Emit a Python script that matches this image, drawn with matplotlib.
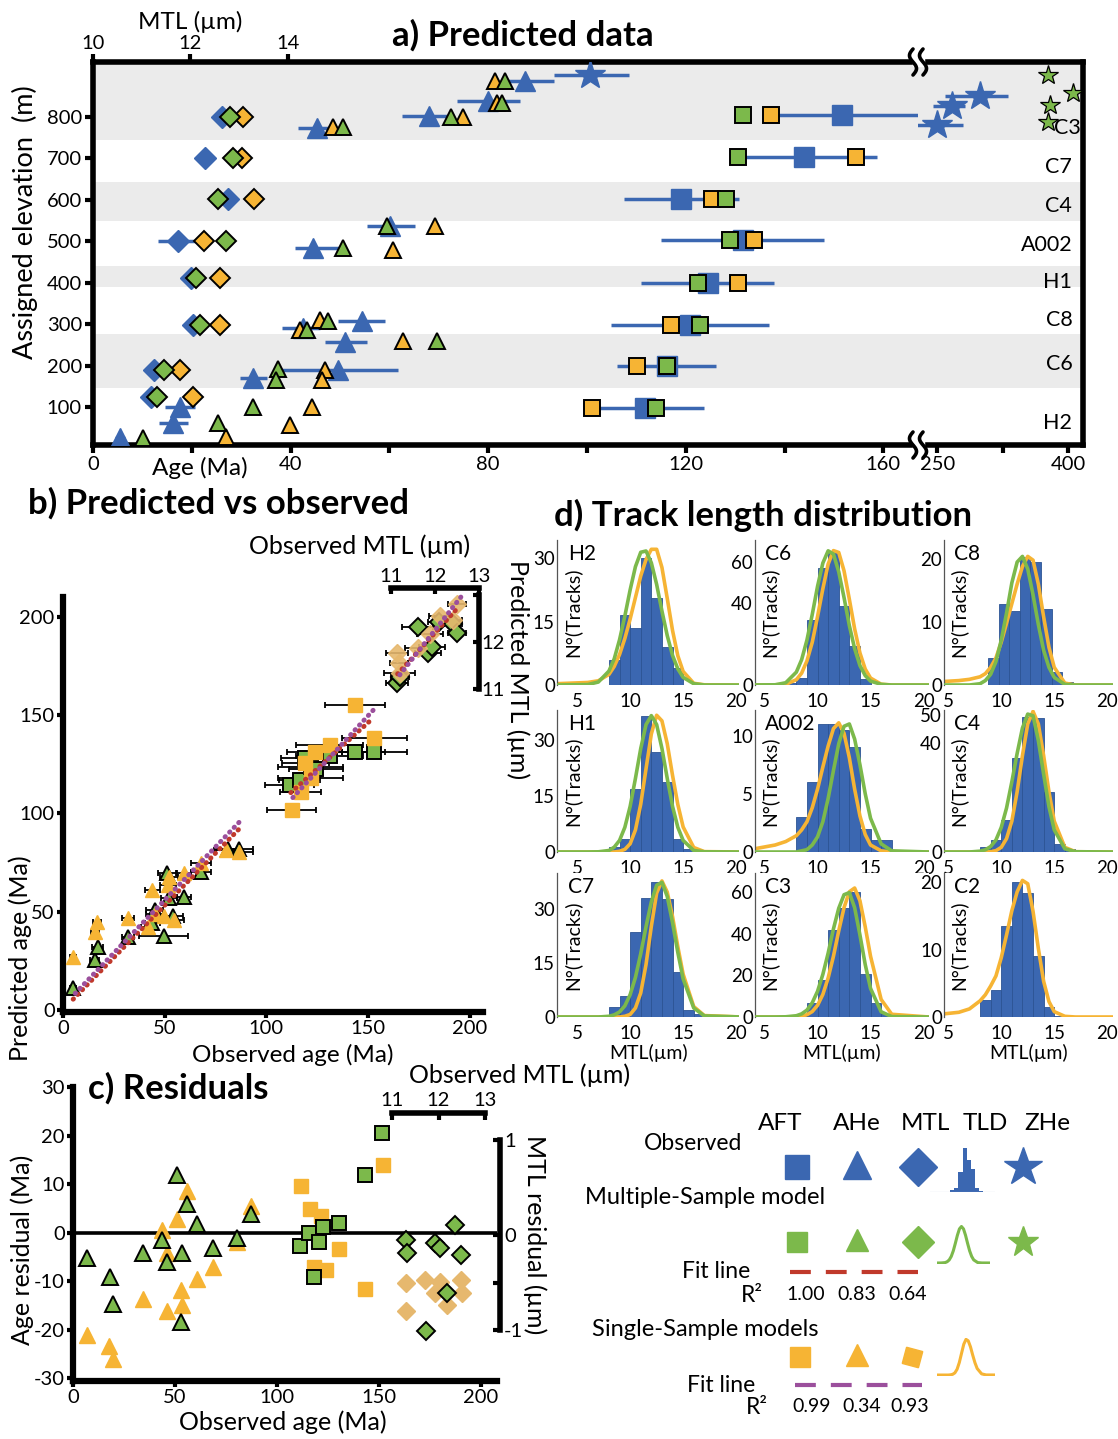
import numpy as np
import matplotlib
matplotlib.use("Agg")
import matplotlib.pyplot as plt
from matplotlib.patches import Rectangle
from matplotlib.transforms import blended_transform_factory

plt.rcParams["font.family"] = ["Lato", "DejaVu Sans"]
plt.rcParams["axes.unicode_minus"] = False

BLUE = "#3b67b1"
BLUE_EDGE = "#2c5494"
GREEN = "#7cb94b"
ORANGE = "#f6b434"
TAN = "#e6b86e"
BAND = "#ebebeb"
RED = "#c0392b"
PURPLE = "#9b4f9c"

# ---------------- a) predicted data (age in Ma, elevation in m, MTL in um)
BANDS = [(744, 933), (549, 643), (389, 440), (145, 276)]
SAMPLES = ["C3", "C7", "C4", "A002", "H1", "C8", "C6", "H2"]
SAMPLE_ELEV = [773, 679, 585, 491, 401, 310, 203, 61]

AFT_ELEV = [805, 703, 602, 503, 399, 298, 199, 97]
AFT_OBS = [151.7, 144.0, 119.1, 131.5, 124.4, 120.8, 116.1, 111.7]
AFT_OBS_ERR = [16, 14.7, 11.6, 16.5, 13.5, 16, 10, 12]
AFT_MULTI = [131.5, 130.5, 128.2, 129.0, 122.4, 122.8, 116.1, 113.9]
AFT_SINGLE = [137.3, 154.5, 125.4, 133.9, 130.5, 116.9, 110.2, 101.1]

AHE_OBS = [87.4, 79.9, 68.0, 45.3, 60.1, 44.5, 54.4, 42.5, 51.0, 49.6, 32.4, 17.6, 16.2, 5.5]
AHE_OBS_ELEV = [887, 839, 802, 773, 537, 484, 307, 290, 257, 189, 170, 100, 61, 25]
AHE_ERR_LO = [3.7, 6.3, 5.5, 3.8, 4.7, 3.6, 4.8, 4.3, 4.0, 11.4, 2.7, 3.0, 2.9, 1.0]
AHE_ERR_HI = [6.0, 6.5, 3.6, 2.2, 5.0, 5.5, 4.7, 3.4, 4.4, 12.1, 2.8, 3.0, 3.0, 1.0]
AHE_MULTI = [83.3, 82.7, 72.4, 50.6, 59.5, 50.6, 47.5, 43.3, 69.6, 37.4, 37.0, 32.4, 25.3, 10.1]
AHE_MULTI_ELEV = [887, 834, 800, 776, 537, 484, 307, 286, 259, 191, 165, 100, 61, 25]
AHE_SINGLE = [81.3, 81.7, 74.8, 48.5, 69.2, 60.7, 45.9, 41.9, 62.7, 47.0, 46.3, 44.3, 39.8, 26.9]
AHE_SINGLE_ELEV = [887, 834, 800, 776, 537, 479, 310, 286, 259, 189, 165, 100, 56, 27]

MTL_ELEV = [800, 701, 602, 500, 411, 298, 189, 124]
MTL_OBS = [12.65, 12.30, 12.77, 11.74, 12.01, 12.05, 11.25, 11.19]
MTL_OBS_ERR = [0, 0, 0, 0.41, 0.2, 0, 0, 0]
MTL_MULTI = [12.81, 12.88, 12.57, 12.73, 12.11, 12.20, 11.46, 11.31]
MTL_SINGLE = [13.08, 13.06, 13.31, 12.28, 12.61, 12.61, 11.79, 12.05]

ZHE_OBS = [100.7, 299, 267, 250]
ZHE_ELEV = [901, 851, 827, 781]
ZHE_ERR_LO = [7.3, 40, 21.6, 37]
ZHE_ERR_HI = [7.9, 32, 15, 30]
ZHE_MULTI = [377, 406, 379, 377]
ZHE_MULTI_ELEV = [901, 858, 829, 788]

# ---------------- b) predicted vs observed
B_AFT_MULTI_OBS = [111.4, 116.3, 118.8, 121.8, 124.4, 131.2, 143.6, 153.0]
B_AFT_MULTI_PRED = [114.2, 116.8, 127.9, 123.4, 122.4, 129.4, 131.0, 131.0]
B_AFT_SINGLE_OBS = [112.4, 116.8, 119.1, 121.8, 123.8, 131.2, 143.6, 153.0]
B_AFT_SINGLE_PRED = [101.5, 110.7, 125.4, 117.8, 131.0, 134.5, 155.3, 138.1]
B_AFT_ERR = [12, 10, 11.6, 16, 13.5, 16.5, 14.7, 16]

B_AHE_MULTI_OBS = [5, 15.5, 17, 32, 44, 45, 49.5, 51, 52, 54, 59.5, 68, 81, 86.5]
B_AHE_MULTI_PRED = [11, 25.5, 32, 37, 44, 51, 37.5, 69.5, 57, 48, 57.5, 70, 82, 82]
B_AHE_MULTI_ERR = [1.5, 2, 2.5, 3, 3.5, 4, 12, 4.5, 4, 5, 3.5, 5, 6, 7]
B_AHE_SINGLE_OBS = [5, 15.8, 16.8, 32, 42, 45, 44, 49.5, 51.5, 52, 54.5, 59.4, 67.8, 80.2, 86.6]
B_AHE_SINGLE_PRED = [27, 39.6, 44.7, 46.7, 42, 49, 61, 47.7, 63.5, 67.5, 45.7, 69.5, 75, 81.2, 80.2]
B_AHE_SINGLE_ERR = [1.5, 2, 2, 3, 3.5, 4, 3.5, 5, 4, 4.5, 5, 3.5, 5, 6, 7]

B_MTL_MULTI_OBS = [11.14, 11.20, 11.61, 11.84, 11.93, 12.09, 12.41, 12.50]
B_MTL_MULTI_PRED = [11.13, 11.26, 12.32, 11.77, 11.89, 12.43, 12.38, 12.19]
B_MTL_ERR = [0.25, 0.2, 0.35, 0.3, 0.3, 0.25, 0.2, 0.2]
B_MTL_SINGLE_OBS = [11.14, 11.18, 11.20, 11.61, 11.89, 12.11, 12.41, 12.50]
B_MTL_SINGLE_PRED = [11.77, 11.55, 11.34, 11.87, 12.17, 12.55, 12.47, 12.81]

FIT_AHE_MULTI = ([5, 87], [5.5, 92.5])
FIT_AHE_SINGLE = ([6, 88], [8.5, 97])
FIT_AFT_MULTI = ([112, 152], [110.5, 148])
FIT_AFT_SINGLE = ([113, 153], [108, 153])
FIT_MTL_MULTI = ([11.15, 12.55], [11.32, 12.76])
FIT_MTL_SINGLE = ([11.2, 12.6], [11.3, 12.97])

# ---------------- c) residuals
C_AHE_MULTI_OBS = [6.9, 18.1, 19.7, 34.1, 43.8, 45.9, 50.8, 53.2, 52.9, 55.7, 60.9, 68.8, 80.5, 87.1]
C_AHE_MULTI_RES = [-5.2, -9.1, -14.8, -4.2, -1.6, -6.0, 11.9, -4.2, -18.4, 5.9, 1.8, -3.1, -1.1, 3.9]
C_AHE_SINGLE_OBS = [6.9, 17.6, 19.7, 34.1, 43.8, 45.9, 45.9, 50.8, 52.7, 53.2, 55.7, 60.9, 68.8, 80.5, 87.1]
C_AHE_SINGLE_RES = [-21.2, -23.3, -26.0, -13.6, 0.5, -4.2, -16.1, 2.7, -11.8, -15.0, 8.5, -9.6, -7.2, -2.0, 5.4]
C_AFT_MULTI_OBS = [111.3, 115.8, 120.6, 118.3, 122.7, 130.5, 143.1, 151.3]
C_AFT_MULTI_RES = [-2.7, -0.1, -2.0, -9.1, 1.2, 2.0, 11.9, 20.6]
C_AFT_SINGLE_OBS = [111.6, 116.2, 121.4, 118.3, 124.0, 130.5, 143.1, 151.8]
C_AFT_SINGLE_RES = [9.6, 4.9, 3.5, -7.2, -7.7, -3.3, -11.7, 13.9]
C_MTL_MULTI_OBS = [11.30, 11.33, 11.92, 12.03, 12.35, 12.48, 12.19, 11.73]
C_MTL_MULTI_RES = [-0.05, -0.19, -0.08, -0.14, 0.11, -0.21, -0.61, -1.01]
C_MTL_SINGLE_OBS = [11.30, 11.30, 11.71, 11.92, 12.03, 12.18, 12.48, 12.50]
C_MTL_SINGLE_RES = [-0.50, -0.80, -0.47, -0.61, -0.49, -0.74, -0.47, -0.61]

# ---------------- d) track length distributions
TL_GRID = [3, 6, 7, 8, 8.5, 9, 9.5, 10, 10.5, 11, 11.5, 12, 12.5, 13, 13.5, 14, 14.5, 15, 16, 17, 20.5]

H2_COUNTS = [6, 16.5, 13.5, 30, 20.5, 9, 4]
H2_GREEN = [0, 0.1, 0.7, 3.3, 6.2, 10.7, 16.3, 22.5, 28.0, 31.4, 31.7, 28.9, 23.8, 17.5, 11.7, 7.0, 3.8, 1.8, 0.3, 0, 0]
H2_ORANGE = [0.3, 0.6, 1.0, 2.5, 4.4, 7.2, 11.0, 15.6, 20.7, 25.8, 29.7, 32.1, 32.1, 27.8, 20.5, 12.9, 6.9, 3.2, 0.4, 0.05, 0]
C6_COUNTS = [1, 3.6, 32, 57.5, 65.6, 38.6, 19.3, 3]
C6_GREEN = [0, 0.1, 1.1, 6.3, 12.4, 22.0, 34.5, 48.3, 59.7, 65.7, 64.1, 55.4, 42.8, 29.1, 17.8, 9.5, 4.6, 1.9, 0.3, 0, 0]
C6_ORANGE = [0, 0.1, 0.3, 2.6, 5.8, 11.8, 20.9, 33.5, 47.1, 59.2, 65.8, 64.9, 55.9, 42.0, 27.5, 15.7, 7.8, 3.4, 0.4, 0, 0]
C8_COUNTS = [4.3, 12.9, 11.8, 20.3, 19.5, 12, 2, 0.5]
C8_GREEN = [0, 0, 0, 0.2, 0.7, 1.7, 3.7, 7.1, 11.4, 16.2, 19.5, 20.4, 18.4, 14.3, 9.6, 5.5, 2.8, 1.2, 0.1, 0, 0]
C8_ORANGE = [0.4, 0.7, 0.9, 1.3, 1.8, 2.8, 4.3, 6.8, 9.8, 12.9, 16.0, 18.8, 20.4, 19.8, 16.0, 10.8, 6.0, 2.8, 0.3, 0, 0]
H1_COUNTS = [1.4, 3.5, 16.8, 36.3, 26.8, 18.6, 3.5, 0.9]
H1_GREEN = [0, 0, 0.05, 0.4, 1.3, 3.1, 6.6, 12.2, 19.7, 27.7, 34.1, 36.5, 34.1, 27.7, 19.7, 12.2, 6.6, 3.1, 0.4, 0.05, 0]
H1_ORANGE = [0, 0, 0, 0, 0, 0.2, 0.7, 2.2, 5.9, 12.8, 22.3, 31.6, 36.6, 35.1, 29.0, 20.5, 12.7, 6.7, 1.2, 0.1, 0]
A002_COUNTS = [3, 6, 11, 11, 10.5, 9, 2, 1, 1]
A002_GREEN = [0, 0, 0, 0, 0.1, 0.2, 0.6, 1.3, 2.6, 4.6, 7.0, 9.3, 10.8, 11.0, 9.7, 7.5, 5.0, 2.9, 0.7, 0.1, 0]
A002_ORANGE = [0.1, 0.6, 0.9, 1.4, 1.9, 2.6, 3.8, 5.4, 7.3, 9.1, 10.6, 11.1, 10.2, 8.1, 5.4, 3.1, 1.5, 0.6, 0.1, 0, 0]
C4_COUNTS = [2, 4.5, 11.6, 34.6, 49.5, 49, 22, 3, 1]
C4_GREEN = [0, 0, 0, 0.3, 0.8, 2.0, 4.4, 9.0, 16.1, 25.7, 36.1, 45.4, 50.5, 49.9, 40.8, 28.5, 16.6, 8.1, 1.2, 0.1, 0]
C4_ORANGE = [0, 0, 0, 0, 0, 0.1, 0.5, 1.7, 4.9, 11.3, 22.1, 35.3, 46.9, 51.5, 46.9, 35.3, 22.1, 11.3, 1.7, 0.1, 0]
C7_COUNTS = [2.8, 5.8, 23.5, 33, 37.6, 32.8, 12.5, 1.9, 0.8]
C7_GREEN = [0, 0, 0, 0.2, 0.6, 1.4, 3.1, 6.2, 11.0, 17.6, 25.1, 32.0, 36.6, 37.4, 33.5, 26.2, 17.9, 10.6, 2.5, 0.3, 0]
C7_ORANGE = [0, 0, 0, 0, 0, 0, 0.2, 0.7, 2.5, 6.7, 14.6, 25.2, 34.4, 37.8, 34.7, 27.9, 19.5, 11.9, 2.9, 0.4, 0]
C3_COUNTS = [1.3, 6.7, 17.9, 41.7, 52.4, 59.8, 20.7, 6.5, 1.3]
C3_GREEN = [0, 0, 0.1, 0.6, 1.5, 3.3, 6.8, 12.3, 20.4, 30.6, 42.2, 52.1, 58.6, 59.6, 52.4, 39.3, 25.1, 13.7, 2.5, 0.2, 0]
C3_ORANGE = [0, 0, 0, 0.1, 0.4, 1.1, 2.6, 5.6, 10.8, 18.7, 29.1, 41.3, 52.4, 60.0, 61.8, 55.7, 43.2, 29.1, 8.4, 1.3, 0]
C2_COUNTS = [2.5, 4, 13.5, 20, 18.5, 9, 1.5, 0.2]
C2_ORANGE = [0.2, 0.7, 1.2, 2.4, 3.3, 4.6, 6.1, 8.8, 12.2, 15.8, 18.6, 20.3, 19.8, 15.7, 10.2, 5.3, 2.3, 0.8, 0.1, 0, 0]

TLD_PANELS = [
    ("H2", 8, H2_COUNTS, H2_GREEN, H2_ORANGE, 34.3, [0, 15, 30]),
    ("C6", 7, C6_COUNTS, C6_GREEN, C6_ORANGE, 71, [0, 40, 60]),
    ("C8", 8.75, C8_COUNTS, C8_GREEN, C8_ORANGE, 23, [0, 10, 20]),
    ("H1", 8, H1_COUNTS, H1_GREEN, H1_ORANGE, 38, [0, 15, 30]),
    ("A002", 8, A002_COUNTS, A002_GREEN, A002_ORANGE, 12.2, [0, 5, 10]),
    ("C4", 8, C4_COUNTS, C4_GREEN, C4_ORANGE, 52, [0, 40, 50]),
    ("C7", 8, C7_COUNTS, C7_GREEN, C7_ORANGE, 40, [0, 15, 30]),
    ("C3", 8, C3_COUNTS, C3_GREEN, C3_ORANGE, 69, [0, 20, 40, 60]),
    ("C2", 8, C2_COUNTS, None, C2_ORANGE, 21.4, [0, 10, 20]),
]

# ---------------- legend
LEG_COLS = ["AFT", "AHe", "MTL", "TLD", "ZHe"]
R2_MULTI = ["1.00", "0.83", "0.64"]
R2_SINGLE = ["0.99", "0.34", "0.93"]

W, H = 1118, 1439
fig = plt.figure(figsize=(W / 100, H / 100), dpi=100)


def box(x0, y0, x1, y1):
    return [x0 / W, 1 - y1 / H, (x1 - x0) / W, (y1 - y0) / H]


def ftext(x, y, s, **kw):
    kw.setdefault("ha", "center")
    kw.setdefault("va", "center")
    fig.text(x / W, 1 - y / H, s, **kw)


def edge(c):
    return dict(mfc=c, mec="black", mew=1.4, ls="none")


# ======================= panel a
ax1 = fig.add_axes(box(93, 62, 918, 445))
ax2 = fig.add_axes(box(918, 62, 1083, 445))
for ax in (ax1, ax2):
    ax.set_ylim(8, 933)
    for lo, hi in BANDS:
        ax.axhspan(lo, hi, color=BAND, lw=0, zorder=0)
    for s in ax.spines.values():
        s.set_linewidth(4)
    ax.errorbar(AFT_OBS, AFT_ELEV, xerr=AFT_OBS_ERR, fmt="s", color=BLUE, ms=15,
                elinewidth=2.5, capsize=0, zorder=3)
    ax.plot(AFT_SINGLE, AFT_ELEV, "s", ms=11.5, zorder=4, **edge(ORANGE))
    ax.plot(AFT_MULTI, AFT_ELEV, "s", ms=11.5, zorder=5, **edge(GREEN))
    ax.errorbar(AHE_OBS, AHE_OBS_ELEV, xerr=[AHE_ERR_LO, AHE_ERR_HI], fmt="^", color=BLUE,
                ms=14, elinewidth=2.5, capsize=0, zorder=3)
    ax.plot(AHE_SINGLE, AHE_SINGLE_ELEV, "^", ms=11, zorder=4, **edge(ORANGE))
    ax.plot(AHE_MULTI, AHE_MULTI_ELEV, "^", ms=11, zorder=5, **edge(GREEN))
    ax.errorbar(ZHE_OBS, ZHE_ELEV, xerr=[ZHE_ERR_LO, ZHE_ERR_HI], fmt="*", color=BLUE,
                ms=22, elinewidth=2.5, capsize=0, zorder=3)
    ax.plot(ZHE_MULTI, ZHE_MULTI_ELEV, "*", ms=15, zorder=5, mfc=GREEN, mec="black",
            mew=0.9, ls="none")

ax1.spines["right"].set_visible(False)
ax2.spines["left"].set_visible(False)
ax1.set_xlim(0, 167)
ax2.set_xlim(228, 417)
age_ticks = list(range(0, 161, 20))
ax1.set_xticks(age_ticks)
ax1.set_xticklabels([str(v) if v % 40 == 0 else "" for v in age_ticks])
ax1.set_yticks(range(100, 801, 100))
ax1.tick_params(direction="out", length=6, width=3, labelsize=14.5, pad=2)
ax2.set_yticks([])
ax2.set_xticks([250, 325, 400])
ax2.set_xticklabels(["250", "", "400"])
ax2.tick_params(axis="x", direction="out", length=6, width=3, labelsize=14.5, pad=2)

trans = blended_transform_factory(ax2.transAxes, ax2.transData)
for name, el in zip(SAMPLES, SAMPLE_ELEV):
    xr = 0.985 if name == "C3" else 0.935
    ax2.text(xr, el, name, transform=trans, ha="right", va="center", fontsize=15.5, zorder=6)

ax_m = ax1.twiny()
ax_m.set_xlim(10, 10 + 167 / 9.85)
ax_m.set_xticks([10, 12, 14])
ax_m.tick_params(axis="x", direction="out", length=6, width=3, labelsize=14.5, pad=1)
for s in ax_m.spines.values():
    s.set_visible(False)
ax_m.errorbar(MTL_OBS, MTL_ELEV, xerr=MTL_OBS_ERR, fmt="D", color=BLUE, ms=11.5,
              elinewidth=2.5, capsize=0, zorder=3)
ax_m.plot(MTL_SINGLE, MTL_ELEV, "D", ms=10, zorder=4, **edge(ORANGE))
ax_m.plot(MTL_MULTI, MTL_ELEV, "D", ms=10, zorder=5, **edge(GREEN))

ftext(190, 22, "MTL (µm)", fontsize=17.5)
ftext(200, 468, "Age (Ma)", fontsize=17.5)
ftext(25, 222, "Assigned elevation  (m)", fontsize=19.5, rotation=90)
ftext(523, 35, "a) Predicted data", fontsize=25, fontweight="bold")

# ======================= panel b
ax_b = fig.add_axes(box(63, 597, 483, 1012))
ax_b.set_xlim(0, 206.5)
ax_b.set_ylim(-1, 210)
for side in ("top", "right"):
    ax_b.spines[side].set_visible(False)
for side in ("left", "bottom"):
    ax_b.spines[side].set_linewidth(4.5)
ax_b.set_xticks([0, 50, 100, 150, 200])
ax_b.set_yticks([0, 50, 100, 150, 200])
ax_b.tick_params(direction="out", length=4, width=3, labelsize=14.5, pad=2)
eb = dict(fmt="none", ecolor="black", elinewidth=1.3, capsize=2.5, capthick=1.3, zorder=2)
ax_b.errorbar(B_AFT_MULTI_OBS, B_AFT_MULTI_PRED, xerr=B_AFT_ERR, **eb)
ax_b.errorbar(B_AFT_SINGLE_OBS, B_AFT_SINGLE_PRED, xerr=B_AFT_ERR, **eb)
ax_b.errorbar(B_AHE_MULTI_OBS, B_AHE_MULTI_PRED, xerr=B_AHE_MULTI_ERR, **eb)
ax_b.errorbar(B_AHE_SINGLE_OBS, B_AHE_SINGLE_PRED, xerr=B_AHE_SINGLE_ERR, **eb)
ax_b.plot(B_AFT_MULTI_OBS, B_AFT_MULTI_PRED, "s", ms=9.5, zorder=3, **edge(GREEN))
ax_b.plot(B_AHE_MULTI_OBS, B_AHE_MULTI_PRED, "^", ms=10, zorder=3, **edge(GREEN))
ax_b.plot(B_AFT_SINGLE_OBS, B_AFT_SINGLE_PRED, "s", ms=9.5, color=ORANGE, ls="none", zorder=4)
ax_b.plot(B_AHE_SINGLE_OBS, B_AHE_SINGLE_PRED, "^", ms=10, color=ORANGE, ls="none", zorder=4)
dot = dict(lw=3.5, ls=(0, (0.1, 1.25)), dash_capstyle="round", zorder=5)
for fx, fy, c in (FIT_AHE_MULTI + (RED,), FIT_AHE_SINGLE + (PURPLE,),
                  FIT_AFT_MULTI + (RED,), FIT_AFT_SINGLE + (PURPLE,)):
    ax_b.plot(fx, fy, color=c, **dot)

ax_bi = fig.add_axes(box(391, 595, 479, 689))
ax_bi.set_facecolor("none")
ax_bi.set_xlim(11, 13)
ax_bi.set_ylim(11, 13)
for side in ("left", "bottom"):
    ax_bi.spines[side].set_visible(False)
for side in ("top", "right"):
    ax_bi.spines[side].set_linewidth(4)
ax_bi.spines["top"].set_position(("outward", 5))
ax_bi.xaxis.tick_top()
ax_bi.yaxis.tick_right()
ax_bi.set_xticks([11, 12, 13])
ax_bi.set_yticks([11, 12, 13])
ax_bi.set_yticklabels(["11", "12", ""])
ax_bi.tick_params(direction="in", length=4, width=3, labelsize=14.5, pad=2)
ax_bi.errorbar(B_MTL_MULTI_OBS, B_MTL_MULTI_PRED, xerr=B_MTL_ERR, clip_on=False, **eb)
ax_bi.errorbar(B_MTL_SINGLE_OBS, B_MTL_SINGLE_PRED, xerr=B_MTL_ERR, clip_on=False, **eb)
ax_bi.plot(B_MTL_MULTI_OBS, B_MTL_MULTI_PRED, "D", ms=9, zorder=3, clip_on=False, **edge(GREEN))
ax_bi.plot(B_MTL_SINGLE_OBS, B_MTL_SINGLE_PRED, "D", ms=9, color=TAN, alpha=0.9, ls="none",
           zorder=4, clip_on=False)
for fx, fy, c in (FIT_MTL_MULTI + (RED,), FIT_MTL_SINGLE + (PURPLE,)):
    ax_bi.plot(fx, fy, color=c, clip_on=False, **dot)

ftext(219, 503, "b) Predicted vs observed", fontsize=25, fontweight="bold")
ftext(360, 546, "Observed MTL (µm)", fontsize=18)
ftext(518, 670, "Predicted MTL (µm)", fontsize=18, rotation=270)
ftext(20, 958, "Predicted age (Ma)", fontsize=18, rotation=90)
ftext(293, 1055, "Observed age (Ma)", fontsize=17.5)

# ======================= panel c
ax_c = fig.add_axes(box(73, 1087, 497, 1381))
ax_c.set_xlim(0, 207.8)
ax_c.set_ylim(-30.6, 30)
for side in ("top", "right"):
    ax_c.spines[side].set_visible(False)
for side in ("left", "bottom"):
    ax_c.spines[side].set_linewidth(4.5)
ax_c.set_xticks([0, 50, 100, 150, 200])
ax_c.set_yticks(range(-30, 31, 10))
ax_c.tick_params(direction="out", length=4, width=3, labelsize=14.5, pad=2)
ax_c.axhline(0, color="black", lw=2.6, zorder=1)
ax_c.plot(C_AHE_SINGLE_OBS, C_AHE_SINGLE_RES, "^", ms=11, color=ORANGE, ls="none", zorder=3)
ax_c.plot(C_AHE_MULTI_OBS, C_AHE_MULTI_RES, "^", ms=11, zorder=4, **edge(GREEN))
ax_c.plot(C_AFT_SINGLE_OBS, C_AFT_SINGLE_RES, "s", ms=10, color=ORANGE, ls="none", zorder=3)
ax_c.plot(C_AFT_MULTI_OBS, C_AFT_MULTI_RES, "s", ms=10, zorder=4, **edge(GREEN))

ax_ci = fig.add_axes(box(392, 1140, 485, 1330))
ax_ci.set_facecolor("none")
ax_ci.set_xlim(11, 13)
ax_ci.set_ylim(-1, 1)
for side in ("left", "bottom"):
    ax_ci.spines[side].set_visible(False)
for side in ("top", "right"):
    ax_ci.spines[side].set_linewidth(4)
ax_ci.spines["top"].set_position(("outward", 19.4))
ax_ci.spines["right"].set_position(("outward", 10.8))
ax_ci.xaxis.tick_top()
ax_ci.yaxis.tick_right()
ax_ci.set_xticks([11, 12, 13])
ax_ci.set_yticks([-1, -0.5, 0, 1])
ax_ci.set_yticklabels(["-1", "", "0", "1"])
ax_ci.tick_params(direction="in", length=5, width=3, labelsize=14.5, pad=3)
ax_ci.plot(C_MTL_SINGLE_OBS, C_MTL_SINGLE_RES, "D", ms=9, color=TAN, ls="none", zorder=3,
           clip_on=False)
ax_ci.plot(C_MTL_MULTI_OBS, C_MTL_MULTI_RES, "D", ms=9, zorder=4, clip_on=False, **edge(GREEN))

ftext(178, 1088, "c) Residuals", fontsize=25, fontweight="bold")
ftext(520, 1075, "Observed MTL (µm)", fontsize=18)
ftext(535, 1235, "MTL residual (µm)", fontsize=18, rotation=270)
ftext(22, 1250, "Age residual (Ma)", fontsize=18, rotation=90)
ftext(283, 1422, "Observed age (Ma)", fontsize=18)

# ======================= panel d
COLS = [(557, 3.1, 20.3), (755, 4.1, 20.5), (944, 4.6, 20.5)]
ROWS = [(540, 685), (710, 852), (873, 1017)]
PX_PER_UM = 10.6
for i, (name, start, counts, green, orange, ymax, yt) in enumerate(TLD_PANELS):
    x0, xmin, xmax = COLS[i % 3]
    top, bottom = ROWS[i // 3]
    ax = fig.add_axes(box(x0, top, x0 + (xmax - xmin) * PX_PER_UM, bottom))
    centers = np.arange(len(counts)) + start + 0.5
    ax.bar(centers, counts, width=1.0, color=BLUE, edgecolor=BLUE_EDGE, lw=0.6, zorder=1)
    ax.plot(TL_GRID, orange, color=ORANGE, lw=2.6, zorder=2)
    if green is not None:
        ax.plot(TL_GRID, green, color=GREEN, lw=2.6, zorder=3)
    ax.set_xlim(xmin, xmax)
    ax.set_ylim(0, ymax)
    ax.set_xticks([5, 10, 15, 20])
    ax.set_yticks(yt)
    for side in ("top", "right", "bottom"):
        ax.spines[side].set_visible(False)
    ax.spines["left"].set_color("#555555")
    ax.spines["left"].set_linewidth(0.9)
    ax.tick_params(axis="y", length=0, labelsize=13.5, pad=1.5)
    ax.tick_params(axis="x", length=0, labelsize=13.5, pad=6)
    ax.text(0.06, 0.9, name, transform=ax.transAxes, fontsize=15, va="center")
    ax.text(0.085, 0.5, "N°(Tracks)", transform=ax.transAxes, fontsize=14, rotation=90,
            ha="center", va="center")
    if i // 3 == 2:
        ax.set_xlabel("MTL(µm)", fontsize=14, labelpad=1)

ftext(763, 515, "d) Track length distribution", fontsize=25, fontweight="bold")

# ======================= legend + break marks (drawn in figure pixels)
lg = fig.add_axes([0, 0, 1, 1])
lg.set_xlim(0, W)
lg.set_ylim(H, 0)
lg.axis("off")

for name, x in zip(LEG_COLS, [780, 857, 925, 985, 1047]):
    lg.text(x, 1123, name, ha="center", va="center", fontsize=17.5)
lg.text(693, 1143, "Observed", ha="center", va="center", fontsize=16.5)
lg.text(705, 1198, "Multiple-Sample model", ha="center", va="center", fontsize=17)
lg.text(705, 1330, "Single-Sample models", ha="center", va="center", fontsize=17)

lg.plot(797, 1167, "s", color=BLUE, ms=17)
lg.plot(857, 1165, "^", color=BLUE, ms=20)
lg.plot(918, 1167, "D", color=BLUE, ms=19)
lg.plot(1023, 1167, "*", color=BLUE, ms=29)
lg.plot(797, 1242, "s", color=GREEN, ms=14)
lg.plot(857, 1240, "^", color=GREEN, ms=16)
lg.plot(918, 1242, "D", color=GREEN, ms=16)
lg.plot(1023, 1242, "*", color=GREEN, ms=23)
lg.plot(800, 1357, "s", color=ORANGE, ms=14)
lg.plot(857, 1355, "^", color=ORANGE, ms=16)
lg.plot(912, 1357, marker=(4, 0, 30), color=ORANGE, ms=17)

lg.plot([790, 918], [1272, 1272], color=RED, lw=3, dashes=(5, 3.6))
lg.plot([795, 922], [1385, 1385], color=PURPLE, lw=3, dashes=(5, 3.6))
lg.text(750, 1272, "Fit line", ha="right", va="center", fontsize=16.5)
lg.text(763, 1295, "R²", ha="right", va="center", fontsize=16.5)
lg.text(755, 1385, "Fit line", ha="right", va="center", fontsize=16.5)
lg.text(768, 1407, "R²", ha="right", va="center", fontsize=16.5)
for v, x in zip(R2_MULTI, [806, 857, 908]):
    lg.text(x, 1294, v, ha="center", va="center", fontsize=14)
for v, x in zip(R2_SINGLE, [812, 862, 910]):
    lg.text(x, 1407, v, ha="center", va="center", fontsize=14)

g = fig.add_axes(box(930, 1146, 995, 1192))
g.bar(np.arange(len(H1_COUNTS)) + 8.5, H1_COUNTS, width=1.0, color=BLUE, lw=0)
g.axhline(0, color="#9db1d8", lw=0.8)
g.set_xlim(3, 19)
g.set_ylim(0, 38)
g.axis("off")
for bx, curve, c in ((box(937, 1225, 990, 1264), H1_GREEN, GREEN),
                     (box(937, 1338, 995, 1376), H1_ORANGE, ORANGE)):
    gc = fig.add_axes(bx)
    gc.plot(TL_GRID, curve, color=c, lw=2.2)
    gc.set_xlim(6, 19)
    gc.set_ylim(-1, 38)
    gc.axis("off")

tt = np.linspace(-1, 1, 40)
for cy in (62, 445):
    lg.add_patch(Rectangle((913, cy - 4), 11, 8, color="white", zorder=5))
    for cx in (913, 923):
        lg.plot(cx + 3.5 * np.sin(np.pi * tt), cy + 13 * tt, color="black", lw=2.6,
                solid_capstyle="round", zorder=6)

fig.savefig("out.png", dpi=100)
